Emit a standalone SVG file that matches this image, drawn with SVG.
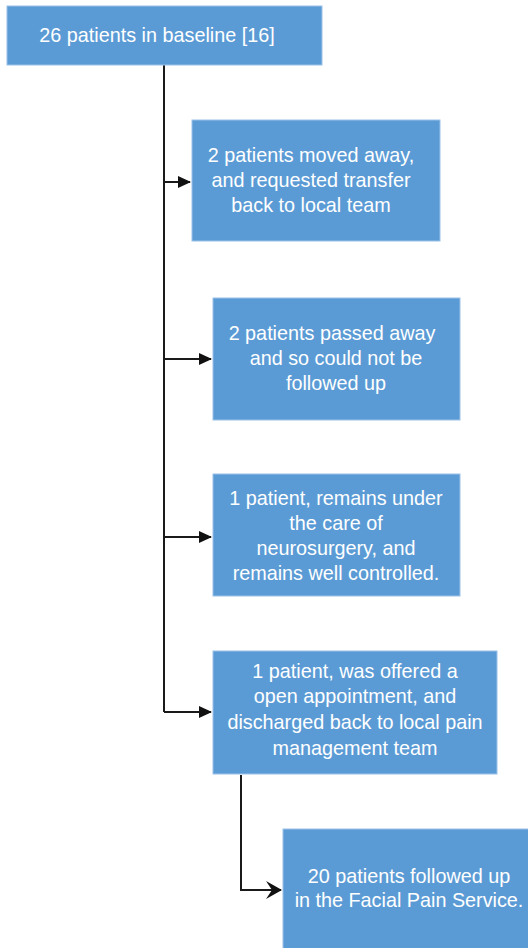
<svg xmlns="http://www.w3.org/2000/svg" width="528" height="948" viewBox="0 0 528 948">
<style>
.box{fill:#5b9bd5;stroke:#9cc2e8;stroke-width:1}
.t{font-family:"Liberation Sans",Arial,sans-serif;font-size:19.8px;fill:#fff;text-anchor:middle}
.ln{fill:none;stroke:#1a1a1a;stroke-width:2}
</style>
<defs>
<marker id="ah" markerWidth="13" markerHeight="12" refX="12" refY="6" orient="auto" markerUnits="userSpaceOnUse">
<path d="M0,0 L13,6 L0,12 Z" fill="#111"/>
</marker>
<marker id="ah2" markerWidth="16" markerHeight="18" refX="15" refY="9" orient="auto" markerUnits="userSpaceOnUse">
<path d="M0,0 L16,9 L0,18 L6,9 Z" fill="#111"/>
</marker>
</defs>
<rect width="528" height="948" fill="#fff"/>
<g id="connectors">
<path class="ln" d="M164,65 V712"/>
<path class="ln" d="M164,182 H190" marker-end="url(#ah)"/>
<path class="ln" d="M164,359 H211" marker-end="url(#ah)"/>
<path class="ln" d="M164,537 H211" marker-end="url(#ah)"/>
<path class="ln" d="M164,712 H211" marker-end="url(#ah)"/>
<path class="ln" d="M241,775 V890 H281" marker-end="url(#ah2)"/>
</g>
<g id="n1">
<rect class="box" x="7" y="6" width="315" height="59"/>
<text class="t" x="157" y="42">26 patients in baseline [16]</text>
</g>
<g id="n2">
<rect class="box" x="192" y="120" width="248" height="121"/>
<text class="t" x="311" y="162">2 patients moved away,</text>
<text class="t" x="311" y="187">and requested transfer</text>
<text class="t" x="311" y="212">back to local team</text>
</g>
<g id="n3">
<rect class="box" x="213" y="298" width="247" height="122"/>
<text class="t" x="332" y="340">2 patients passed away</text>
<text class="t" x="336" y="365">and so could not be</text>
<text class="t" x="336" y="390">followed up</text>
</g>
<g id="n4">
<rect class="box" x="213" y="474" width="247" height="122"/>
<text class="t" x="336" y="505">1 patient, remains under</text>
<text class="t" x="336" y="530">the care of</text>
<text class="t" x="336" y="555">neurosurgery, and</text>
<text class="t" x="336" y="580">remains well controlled.</text>
</g>
<g id="n5">
<rect class="box" x="213" y="651" width="284" height="123"/>
<text class="t" x="355" y="678">1 patient, was offered a</text>
<text class="t" x="355" y="703">open appointment, and</text>
<text class="t" x="355" y="729">discharged back to local pain</text>
<text class="t" x="355" y="755">management team</text>
</g>
<g id="n6">
<rect class="box" x="283" y="829" width="250" height="125"/>
<text class="t" x="409" y="883">20 patients followed up</text>
<text class="t" x="409" y="907">in the Facial Pain Service.</text>
</g>
</svg>
